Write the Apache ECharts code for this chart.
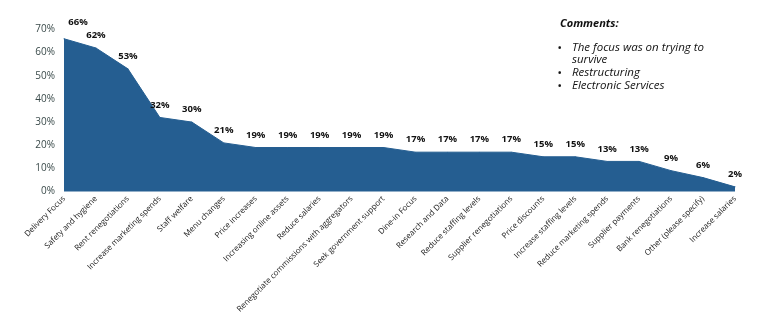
<!DOCTYPE html>
<html><head><meta charset="utf-8">
<script src="https://cdn.jsdelivr.net/npm/echarts@6/dist/echarts.min.js"></script>
<style>html,body{margin:0;padding:0;background:#fff;}#c{width:779px;height:327px;}</style>
</head><body><div id="c"></div>
<script>
const categories = ["Delivery Focus","Safety and hygiene","Rent renegotiations","Increase marketing spends","Staff welfare","Menu changes","Price increases","Increasing online assets","Reduce salaries","Renegotiate commissions with aggregators","Seek government support","Dine-in Focus","Research and Data","Reduce staffing levels","Supplier renegotiations","Price discounts","Increase staffing levels","Reduce marketing spends","Supplier payments","Bank renegotiations","Other (please specify)","Increase salaries"];
const values = [66,62,53,32,30,21,19,19,19,19,19,17,17,17,17,15,15,13,13,9,6,2];
const yTicks = [0,10,20,30,40,50,60,70];
const comments = ["The focus was on trying to survive","Restructuring","Electronic Services"];

const chart = echarts.init(document.getElementById('c'));
chart.setOption({
  animation:false,
  grid:{left:64,right:44,top:29.5,bottom:135.5},
  xAxis:{type:'category',data:categories,boundaryGap:false,
    axisLine:{show:false},axisTick:{show:false},
    splitLine:{show:false},
    axisLabel:{rotate:45,interval:0,fontSize:8,color:'#1a1a1a',fontFamily:'Open Sans',margin:6}},
  yAxis:{type:'value',min:0,max:70,interval:10,
    axisLine:{show:false},axisTick:{show:false},splitLine:{show:false},
    axisLabel:{formatter:'{value}%',fontSize:10,color:'#3a4a4a',fontFamily:'Open Sans',margin:9}},
  series:[{type:'line',data:values,symbol:'circle',symbolSize:1,showSymbol:true,showAllSymbol:true,
    itemStyle:{color:'#255E91'},
    lineStyle:{width:1,color:'#255E91'},
    areaStyle:{color:'#255E91',opacity:1},
    labelLayout:function(p){ return p.dataIndex===0 ? {dx:14,dy:-4,hideOverlap:false} : {hideOverlap:false}; },
    label:{show:true,position:'top',distance:7,formatter:'{c}%',fontWeight:'bold',fontSize:9.5,color:'#111',fontFamily:'Open Sans'}}],
  graphic:[
    {type:'text',left:560,top:18,style:{text:'Comments:',font:'italic bold 11px "Open Sans"',fill:'#111'}},
    {type:'text',left:558,top:42,style:{text:'•\n\n•\n•',font:'bold 9px "Open Sans"',fill:'#111',lineHeight:12.7}},
    {type:'text',left:572,top:41,style:{text:'The focus was on trying to\nsurvive\nRestructuring\nElectronic Services',font:'italic 11.5px "Open Sans"',fill:'#111',lineHeight:12.7}}
  ]
});
</script></body></html>
